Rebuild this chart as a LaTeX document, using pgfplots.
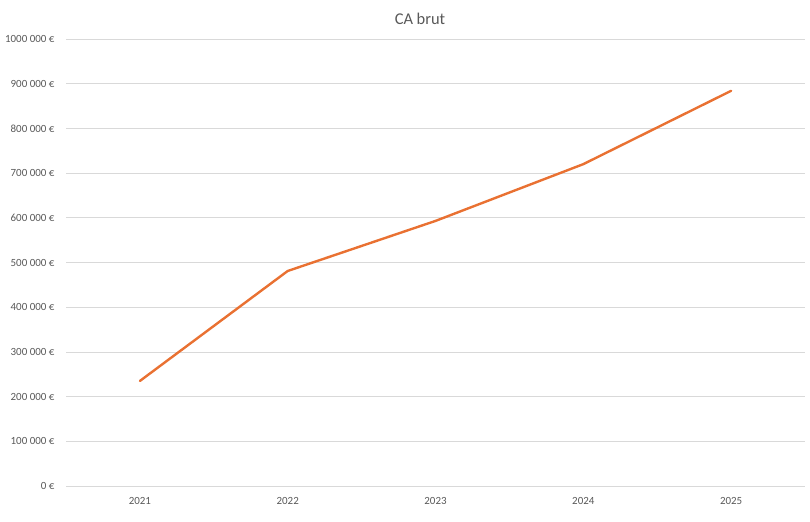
\documentclass[border=0pt]{standalone}
\usepackage{pgfplots}
\pgfplotsset{compat=1.18}
\usepackage{fontspec}
\setmainfont{Carlito}
\definecolor{lineorange}{HTML}{E97132}
\definecolor{gridgray}{HTML}{D9D9D9}
\definecolor{textgray}{HTML}{595959}
\begin{document}
\begin{tikzpicture}[x=1bp,y=1bp]
\path[use as bounding box] (0,0) rectangle (810,522);
\node[text=textgray, font=\fontsize{16.5}{19}\selectfont] at (420,503) {CA brut};
\begin{axis}[
  at={(66bp,36bp)}, anchor=south west,
  scale only axis, width=739bp, height=447bp,
  xmin=-0.5, xmax=4.5, ymin=0, ymax=1000000,
  scaled y ticks=false,
  xtick={0,1,2,3,4},
  xticklabels={2021,2022,2023,2024,2025},
  ytick={0,100000,200000,300000,400000,500000,600000,700000,800000,900000,1000000},
  yticklabels={0 €,100 000 €,200 000 €,300 000 €,400 000 €,500 000 €,600 000 €,700 000 €,800 000 €,900 000 €,1000 000 €},
  ymajorgrids, grid style={gridgray, line width=0.75bp},
  axis line style={draw=none},
  major tick length=0pt,
  tick label style={text=textgray, font=\fontsize{11}{13}\selectfont},
  yticklabel style={anchor=east, xshift=-8bp},
  xticklabel style={anchor=center, yshift=-15bp},
  clip=false,
]
\addplot[lineorange, line width=2.4bp, line join=round, line cap=round] coordinates {
  (0,235000) (1,481000) (2,593000) (3,720000) (4,884000)
};
\end{axis}
\end{tikzpicture}
\end{document}
